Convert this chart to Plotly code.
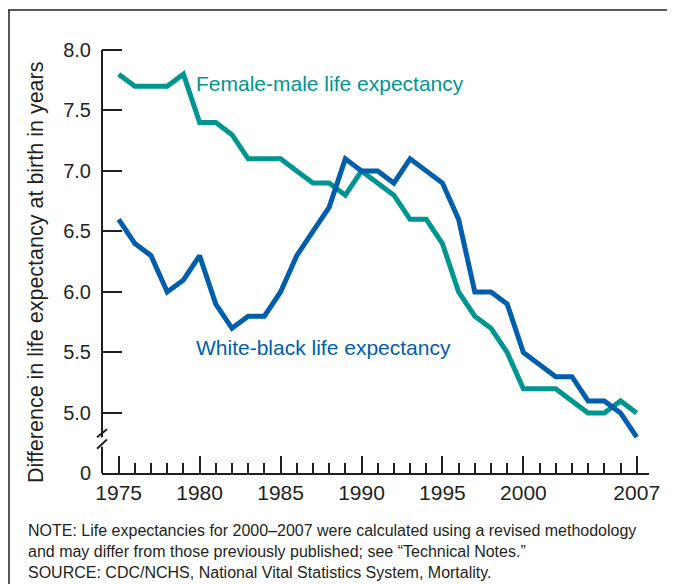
import plotly.graph_objects as go

years = list(range(1975, 2008))

female_male = [7.8, 7.7, 7.7, 7.7, 7.8, 7.4, 7.4, 7.3, 7.1, 7.1, 7.1, 7.0, 6.9, 6.9, 6.8,
               7.0, 6.9, 6.8, 6.6, 6.6, 6.4, 6.0, 5.8, 5.7, 5.5, 5.2, 5.2, 5.2, 5.1, 5.0,
               5.0, 5.1, 5.0]
white_black = [6.6, 6.4, 6.3, 6.0, 6.1, 6.3, 5.9, 5.7, 5.8, 5.8, 6.0, 6.3, 6.5, 6.7, 7.1,
               7.0, 7.0, 6.9, 7.1, 7.0, 6.9, 6.6, 6.0, 6.0, 5.9, 5.5, 5.4, 5.3, 5.3, 5.1,
               5.1, 5.0, 4.8]

x_ticks = [1975, 1980, 1985, 1990, 1995, 2000, 2007]
y_ticks = [5.0, 5.5, 6.0, 6.5, 7.0, 7.5, 8.0]
# the axis is broken below 5.0; "0" sits at the x-axis line
zero_pos = 4.504

TEAL = '#00968f'
BLUE = '#005eab'
INK = '#231f20'
FONT = 'Liberation Sans, Arial, sans-serif'

fig = go.Figure()
fig.add_trace(go.Scatter(x=years, y=female_male, mode='lines',
                         line=dict(color=TEAL, width=5), showlegend=False))
fig.add_trace(go.Scatter(x=years, y=white_black, mode='lines',
                         line=dict(color=BLUE, width=5), showlegend=False))

# page body adds an 8px offset, so the figure is 8px smaller each way
fig.update_layout(
    width=667, height=576,
    margin=dict(l=94, r=26, t=22, b=111),
    paper_bgcolor='white', plot_bgcolor='white',
    font=dict(family=FONT, color=INK, size=20),
    xaxis=dict(
        range=[1973.97, 2007.76], showgrid=False, zeroline=False,
        showline=True, linecolor=INK, linewidth=2,
        tickvals=x_ticks, ticks='inside', ticklen=17, tickwidth=2, tickcolor=INK,
        minor=dict(dtick=1, tick0=1975, ticks='inside', ticklen=10, tickwidth=2, tickcolor=INK),
        tickfont=dict(size=21, color=INK),
    ),
    yaxis=dict(
        range=[zero_pos, 8.165], showgrid=False, zeroline=False, showline=False,
        tickvals=[zero_pos] + y_ticks,
        ticktext=['0'] + ['%.1f' % v for v in y_ticks],
        ticks='inside', ticklen=20, tickwidth=2, tickcolor=INK,
        tickfont=dict(size=20, color=INK), ticklabelstandoff=10,
    ),
)

# broken y axis line with slashes
fig.add_shape(type='line', xref='paper', yref='y', x0=0, x1=0, y0=8.0, y1=4.80,
              line=dict(color=INK, width=2))
fig.add_shape(type='line', xref='paper', yref='y', x0=0, x1=0, y0=4.72, y1=zero_pos,
              line=dict(color=INK, width=2))
w = 547.0
for ya, yb in [(4.80, 4.865), (4.705, 4.78)]:
    fig.add_shape(type='line', xref='paper', yref='y', x0=-5 / w, x1=5 / w, y0=ya, y1=yb,
                  line=dict(color=INK, width=2))

# outer frame (cropped at right and bottom)
fig.add_shape(type='line', xref='paper', yref='paper', x0=-94 / w, x1=1.2, y0=1 + 20 / 443, y1=1 + 20 / 443,
              line=dict(color=INK, width=1.5))
fig.add_shape(type='line', xref='paper', yref='paper', x0=-93 / w, x1=-93 / w, y0=1 + 20 / 443, y1=-0.4,
              line=dict(color=INK, width=1.5))

fig.add_annotation(x=1979.65, y=7.72, xref='x', yref='y', text='Female-male life expectancy',
                   showarrow=False, xanchor='left', yanchor='middle', font=dict(size=21, color=TEAL))
fig.add_annotation(x=1979.65, y=5.54, xref='x', yref='y', text='White-black life expectancy',
                   showarrow=False, xanchor='left', yanchor='middle', font=dict(size=21, color=BLUE))

fig.add_annotation(x=-66 / w, y=(473 - 273) / 443, xref='paper', yref='paper',
                   xanchor='center', yanchor='middle',
                   text='Difference in life expectancy at birth in years', textangle=-90,
                   showarrow=False, font=dict(size=21.5, color=INK))

fig.add_annotation(x=-76 / w, y=-47 / 443, xref='paper', yref='paper', xanchor='left', yanchor='top',
                   align='left', showarrow=False, font=dict(size=16, color=INK),
                   text='NOTE: Life expectancies for 2000\u20132007 were calculated using a revised methodology<br>'
                        'and may differ from those previously published; see \u201cTechnical Notes.\u201d<br>'
                        'SOURCE: CDC/NCHS, National Vital Statistics System, Mortality.')

fig.write_html('out.html')
